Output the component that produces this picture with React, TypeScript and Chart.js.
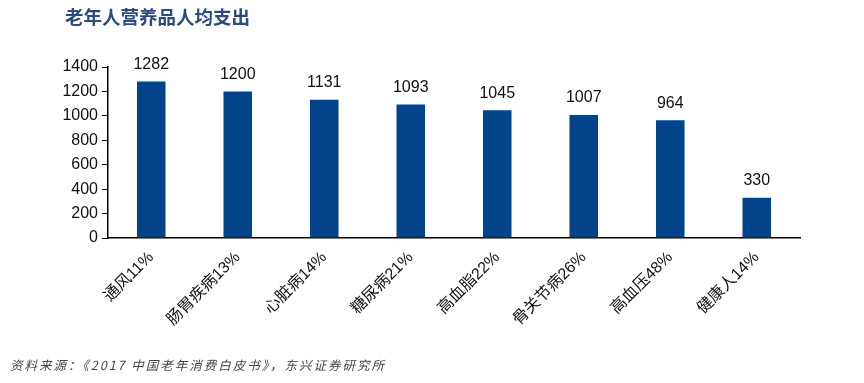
import React, { useEffect, useRef } from "react";
import { Chart, registerables } from "chart.js";

Chart.register(...registerables);

const categories = ["通风11%", "肠胃疾病13%", "心脏病14%", "糖尿病21%", "高血脂22%", "骨关节病26%", "高血压48%", "健康人14%"];
const values = [1282, 1200, 1131, 1093, 1045, 1007, 964, 330];
const yTicks = [0, 200, 400, 600, 800, 1000, 1200, 1400];

const valueLabels = {
  id: "valueLabels",
  afterDatasetsDraw(chart: any) {
    const { ctx } = chart;
    const meta = chart.getDatasetMeta(0);
    ctx.save();
    ctx.fillStyle = "#111";
    ctx.font = '16px "Liberation Sans", Arial, sans-serif';
    ctx.textAlign = "center";
    ctx.textBaseline = "bottom";
    meta.data.forEach((bar: any, i: number) => {
      ctx.fillText(String(values[i]), bar.x, bar.y - 9);
    });
    ctx.restore();
  },
};

export default function App() {
  const ref = useRef<HTMLCanvasElement>(null);
  useEffect(() => {
    document.body.style.margin = "0";
    const chart = new Chart(ref.current!, {
      type: "bar",
      data: {
        labels: categories,
        datasets: [
          {
            data: values,
            backgroundColor: "#02438a",
            borderWidth: 0,
            barPercentage: 0.33,
            categoryPercentage: 1,
          },
        ],
      },
      options: {
        animation: false,
        responsive: false,
        layout: { padding: { left: 0, right: 64, top: 67, bottom: 0 } },
        plugins: { legend: { display: false }, tooltip: { enabled: false } },
        scales: {
          x: {
            grid: { display: false },
            border: { display: true, color: "#000", width: 1.5 },
            ticks: {
              color: "#111",
              font: { family: '"Liberation Sans", "Noto Sans CJK SC", sans-serif', size: 16 },
              minRotation: 45,
              maxRotation: 45,
              autoSkip: false,
              padding: 2,
            },
            afterFit: (s: any) => {
              s.height = 145;
            },
          },
          y: {
            min: 0,
            max: 1400,
            afterBuildTicks: (s: any) => {
              s.ticks = yTicks.map((v) => ({ value: v }));
            },
            grid: { drawOnChartArea: false, drawTicks: true, tickLength: 6, color: "#000" },
            border: { display: true, color: "#000", width: 1.5 },
            ticks: {
              color: "#111",
              font: { family: '"Liberation Sans", Arial, sans-serif', size: 16 },
              padding: 4,
              callback: (v: any) => String(v),
            },
            afterFit: (s: any) => {
              s.width = 108;
            },
          },
        },
      },
      plugins: [valueLabels],
    });
    return () => chart.destroy();
  }, []);

  return (
    <div style={{ position: "relative", width: 864, height: 383, background: "#fff", overflow: "hidden" }}>
      <canvas ref={ref} width={864} height={383} style={{ position: "absolute", left: 0, top: 0 }} />
      <div
        style={{
          position: "absolute",
          left: 65,
          top: 5,
          fontFamily: '"Noto Sans CJK SC", sans-serif',
          fontWeight: 700,
          fontSize: 18.5,
          color: "#2b4b7e",
          lineHeight: "22px",
        }}
      >
        老年人营养品人均支出
      </div>
      <div
        style={{
          position: "absolute",
          left: 10,
          top: 356,
          fontFamily: '"Noto Sans CJK SC", sans-serif',
          fontStyle: "italic",
          fontSize: 12.5,
          color: "#444",
          lineHeight: "18px",
          letterSpacing: 2,
        }}
      >
        资料来源：《2017 中国老年消费白皮书》，东兴证券研究所
      </div>
    </div>
  );
}
